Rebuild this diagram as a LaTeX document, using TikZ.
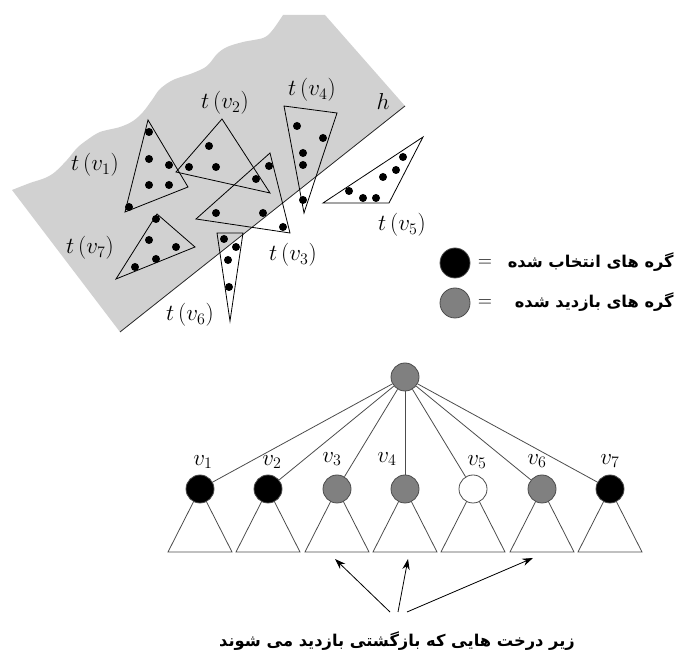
\documentclass[tikz,border=0pt]{standalone}
\usepackage{fontspec}
\newfontfamily\fa[Script=Arabic]{DejaVu Sans}
\TeXXeTstate=1
\usetikzlibrary{arrows.meta,backgrounds}
\definecolor{regiongray}{gray}{0.82}
\definecolor{nodegray}{gray}{0.5}
\definecolor{linegray}{gray}{0.3}
\begin{document}
\begin{tikzpicture}[x=0.75pt,y=-0.75pt,
  tri/.style={draw=black,line width=0.6pt},
  lab/.style={font=\fontsize{17}{20}\selectfont,inner sep=0pt},
  vlab/.style={font=\fontsize{17}{20}\selectfont,inner sep=0pt},
  tnode/.style={circle,draw=linegray,line width=0.6pt,minimum size=21pt,inner sep=0pt},
  sub/.style={draw=linegray,line width=0.6pt},
  edge/.style={draw=linegray,line width=0.6pt},
  arr/.style={draw=black,line width=0.6pt,-{Stealth[length=8pt,width=5.5pt]}},
  fatext/.style={font=\fontsize{12.2}{15}\fa\bfseries,inner sep=0pt},
  legc/.style={circle,draw=linegray,line width=0.6pt,minimum size=22.5pt,inner sep=0pt},
  dotc/.style={fill=black}]
\useasboundingbox (0,0) rectangle (679,655);
% shaded region
\fill[regiongray] plot[smooth,tension=0.55] coordinates {(12,190) (30,183) (45,178) (55,172) (67,160) (77,148) (87,140) (100,132) (120,127) (133,121) (143,112) (152,100) (160,89) (173,80) (193,73) (207,66) (217,54) (227,47) (243,42) (263,38) (271,32) (277,24) (283,15)} -- (325,15) -- (405,106) -- (120,332) -- cycle;
\coordinate (hA) at (405,106);
\coordinate (hB) at (120,332);
\draw[black!85,line width=0.6pt] (hA) -- (hB);
\node[lab] (hl) at (383,102) {$h$};
% t(v1)
\draw[tri] (148,120) -- (188,187) -- (125,212) -- cycle;
\foreach \p in {(149,132),(149,159),(169,165),(149,185),(169,185),(129,207)} \fill[dotc] \p circle[radius=3pt];
% t(v2)
\draw[tri] (222,119) -- (270,193) -- (176,172) -- cycle;
\foreach \p in {(209,146),(189,167),(216,167)} \fill[dotc] \p circle[radius=3pt];
% t(v3)
\draw[tri] (270,153) -- (290,233) -- (196,219) -- cycle;
\foreach \p in {(269,166),(256,179),(216,213),(263,213),(283,227)} \fill[dotc] \p circle[radius=3pt];
% t(v4)
\draw[tri] (284,106) -- (337,113) -- (304,213) -- cycle;
\foreach \p in {(297,126),(323,138),(303,153),(303,165),(303,200)} \fill[dotc] \p circle[radius=3pt];
% t(v5)
\draw[tri] (423,137) -- (389,203) -- (323,203) -- cycle;
\foreach \p in {(403,157),(396,170),(383,177),(349,191),(363,198),(376,198)} \fill[dotc] \p circle[radius=3pt];
% t(v6)
\draw[tri] (217,233) -- (243,233) -- (230,321) -- cycle;
\foreach \p in {(224,239),(236,247),(228,260),(229,287)} \fill[dotc] \p circle[radius=3pt];
% t(v7)
\draw[tri] (157,214) -- (195,247) -- (116,279) -- cycle;
\foreach \p in {(156,219),(149,240),(176,247),(156,259),(135,267)} \fill[dotc] \p circle[radius=3pt];
% labels
\node[lab] (l1) at (95,165) {$t\,(v_{1})$};
\node[lab] (l2) at (225,103) {$t\,(v_{2})$};
\node[lab] (l3) at (293,255) {$t\,(v_{3})$};
\node[lab] (l4) at (312,90) {$t\,(v_{4})$};
\node[lab] (l5) at (402,225) {$t\,(v_{5})$};
\node[lab] (l6) at (190,315) {$t\,(v_{6})$};
\node[lab] (l7) at (90,248) {$t\,(v_{7})$};
% legend
\node[legc,fill=black] (lg1) at (455,263) {};
\node[legc,fill=nodegray] (lg2) at (455,303) {};
\node[inner sep=0pt,font=\fontsize{14}{16}\selectfont] (eq1) at (485,263) {=};
\node[inner sep=0pt,font=\fontsize{14}{16}\selectfont] (eq2) at (485,303) {=};
\node[fatext,anchor=east] (lt1) at (674,262) {\beginR گره های انتخاب شده\endR};
\node[fatext,anchor=east] (lt2) at (674,302) {\beginR گره های بازدید شده\endR};
% tree
\node[tnode,fill=nodegray] (root) at (405,377) {};
\node[tnode,fill=black] (c1) at (200,489) {};
\node[tnode,fill=black] (c2) at (268,489) {};
\node[tnode,fill=nodegray] (c3) at (337,489) {};
\node[tnode,fill=nodegray] (c4) at (405,489) {};
\node[tnode,fill=white] (c5) at (473,489) {};
\node[tnode,fill=nodegray] (c6) at (542,489) {};
\node[tnode,fill=black] (c7) at (610,489) {};
\begin{scope}[on background layer]
\foreach \c in {c1,c2,c3,c4,c5,c6,c7} \draw[sub] (\c.center) -- ++(-32,63) -- ++(64,0) -- cycle;
\end{scope}
\foreach \c in {c1,c2,c3,c4,c5,c6,c7} \draw[edge] (root) -- (\c);
\node[vlab] (v1) at (203,462) {$v_{1}$};
\node[vlab] (v2) at (272,462) {$v_{2}$};
\node[vlab] (v3) at (332,459) {$v_{3}$};
\node[vlab] (v4) at (387,459) {$v_{4}$};
\node[vlab] (v5) at (477,462) {$v_{5}$};
\node[vlab] (v6) at (537,461) {$v_{6}$};
\node[vlab] (v7) at (610,461) {$v_{7}$};
% arrows
\coordinate (s1) at (390,612);
\coordinate (s2) at (398,612);
\coordinate (s3) at (407,612);
\coordinate (e1) at (335,559);
\coordinate (e2) at (408,559);
\coordinate (e3) at (533,558);
\draw[arr] (s1) -- (e1);
\draw[arr] (s2) -- (e2);
\draw[arr] (s3) -- (e3);
\node[fatext] (cap) at (397,641) {\beginR زیر درخت هایی که بازگشتی بازدید می شوند\endR};
\end{tikzpicture}
\end{document}
